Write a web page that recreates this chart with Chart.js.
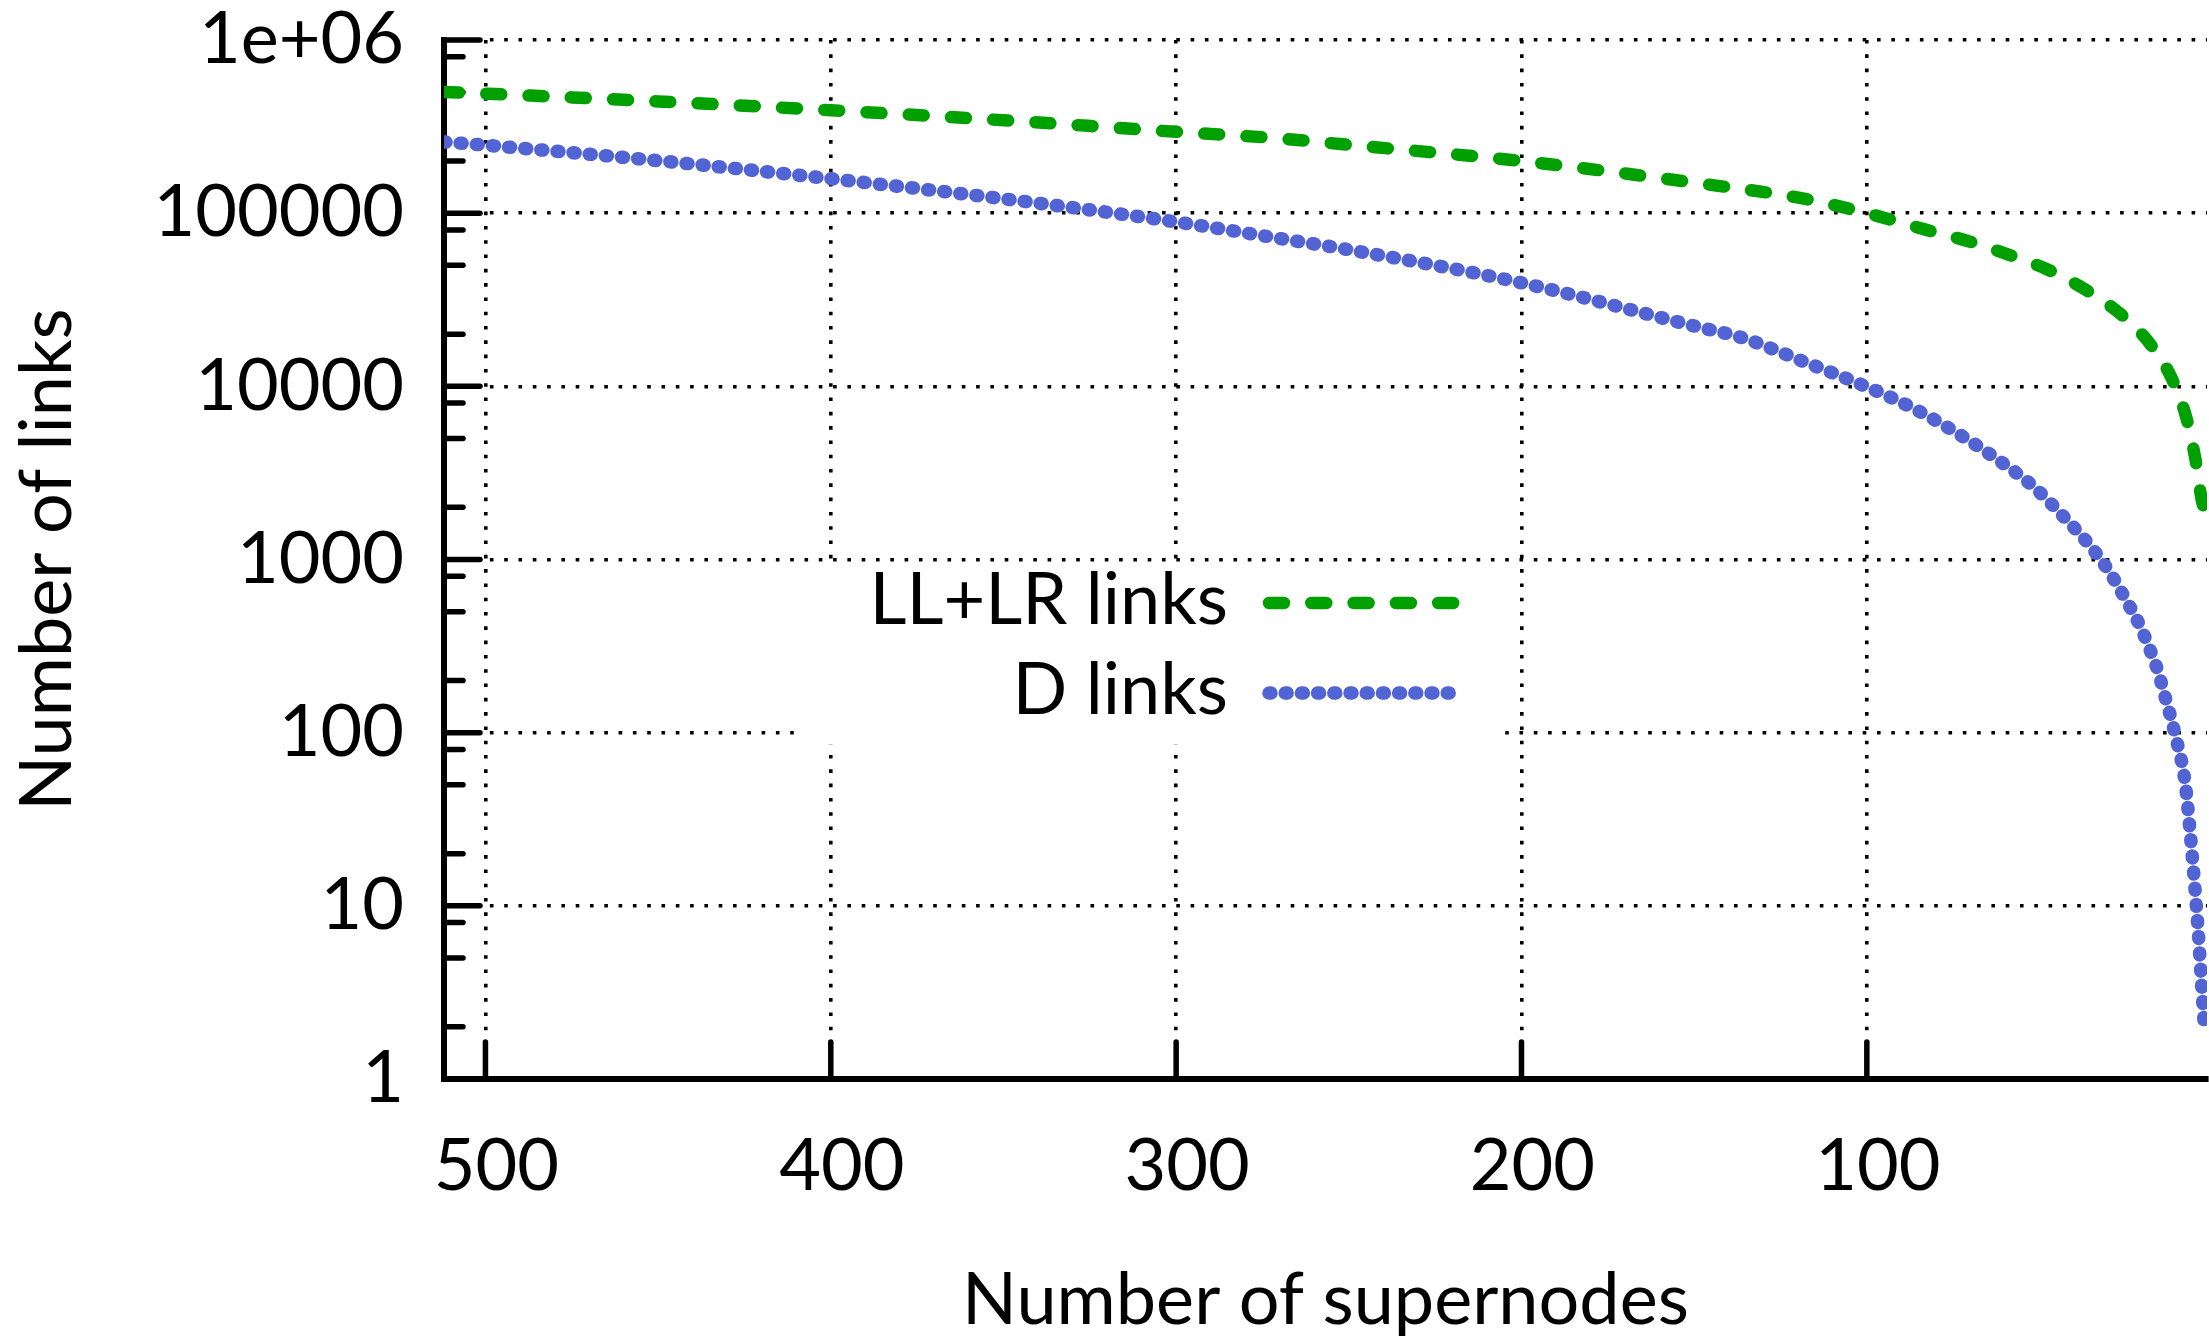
<!DOCTYPE html>
<html><head><meta charset="utf-8">
<script src="https://cdn.jsdelivr.net/npm/chart.js@4/dist/chart.umd.min.js"></script>
<style>html,body{margin:0;padding:0;background:#fff;}canvas{display:block;}</style>
</head><body>
<canvas id="c" width="2209" height="1344"></canvas>
<script>
// ---- data ----
const seriesNames = ['LL+LR links', 'D links'];
const supernodesLL = [512, 500, 450, 400, 350, 300, 270, 250, 200, 150, 119, 100, 82.5, 70.6, 59, 47.7, 36.8, 26.8, 18.2, 11.7, 7.5, 4.9, 3.0, 2.0];
const llLrLinks    = [501000, 490000, 442000, 393000, 344000, 295000, 270000, 248000, 200000, 150000, 122000, 100000, 79800, 68900, 57600, 47300, 36300, 26400, 17800, 11100, 6610, 3840, 2200, 1850];
const supernodesD  = [512, 500, 450, 400, 350, 300, 270, 250, 200, 150, 135.8, 117.9, 100, 87.4, 74.9, 63.3, 51.7, 42.1, 35.5, 30.0, 25.2, 20.8, 17.2, 15.5, 14.3, 10.7, 7.8, 6.4, 5.2, 4.1, 3.2, 2.3];
const dLinks       = [258000, 247000, 201000, 158000, 121000, 89000, 71400, 61500, 39600, 22300, 19000, 13800, 9930, 7620, 5530, 3920, 2630, 1690, 1211, 861, 596, 409, 274, 220, 180, 97, 51, 26.8, 14.2, 7.4, 3.9, 2.05];
const xTickValues = [500, 400, 300, 200, 100];
const yTickValues = [1, 10, 100, 1000, 10000, 100000, 1000000];
const yTickLabels = ['1', '10', '100', '1000', '10000', '100000', '1e+06'];
const yMinorFactors = [2, 5, 8];
const xTitle = 'Number of supernodes';
const yTitle = 'Number of links';

const GREEN = '#00a000';
const BLUE = '#5263d4';
const FONT = 'Lato';

const bgPlugin = {
  id: 'bg',
  beforeDraw(chart) {
    const ctx = chart.ctx;
    ctx.save(); ctx.fillStyle = '#fff'; ctx.fillRect(0, 0, chart.width, chart.height); ctx.restore();
  }
};

const ticksPlugin = {
  id: 'inTicks',
  beforeDatasetsDraw(chart) {
    const ctx = chart.ctx, xs = chart.scales.x, ys = chart.scales.y;
    const left = chart.chartArea.left, bottom = chart.chartArea.bottom;
    ctx.save();
    ctx.strokeStyle = '#000'; ctx.lineWidth = 5.5; ctx.lineCap = 'round';
    const seg = (x1, y1, x2, y2) => { ctx.beginPath(); ctx.moveTo(x1, y1); ctx.lineTo(x2, y2); ctx.stroke(); };
    for (const v of yTickValues) { const p = ys.getPixelForValue(v); seg(left, p, left + 36, p); }
    for (let i = 0; i < yTickValues.length - 1; i++) {
      for (const m of yMinorFactors) { const p = ys.getPixelForValue(yTickValues[i] * m); seg(left, p, left + 19, p); }
    }
    for (const v of xTickValues) { const p = xs.getPixelForValue(v); seg(p, bottom, p, bottom - 37); }
    ctx.restore();
  }
};

const keyPlugin = {
  id: 'key',
  afterDatasetsDraw(chart) {
    const ctx = chart.ctx;
    const ds = chart.data.datasets;
    ctx.save();
    ctx.fillStyle = '#fff';
    ctx.fillRect(803, 563, 697, 181);
    ctx.font = '72px ' + FONT;
    ctx.textAlign = 'right'; ctx.textBaseline = 'middle'; ctx.fillStyle = '#000';
    const rows = [601, 691];
    ds.forEach((d, i) => {
      ctx.fillText(d.label, 1228, rows[i]);
      ctx.strokeStyle = d.borderColor; ctx.lineWidth = d.borderWidth; ctx.lineCap = 'round';
      ctx.setLineDash(d.borderDash);
      ctx.beginPath(); ctx.moveTo(1269, rows[i] + 2); ctx.lineTo(1454, rows[i] + 2); ctx.stroke();
    });
    ctx.restore();
  }
};

const gridCommon = { color: '#000', lineWidth: 3.6, drawTicks: false };
const borderCommon = { display: true, color: '#000', width: 6, dash: [3.6, 10.7] };

function makeChart() {
  Chart.defaults.font.family = FONT;
  Chart.defaults.color = '#000';
  new Chart(document.getElementById('c'), {
    type: 'line',
    data: {
      datasets: [
        {
          label: seriesNames[0],
          data: supernodesLL.map((x, i) => ({ x, y: llLrLinks[i] })),
          borderColor: GREEN, borderWidth: 12.5, borderDash: [15, 27.3],
          borderCapStyle: 'round', borderJoinStyle: 'round',
          pointRadius: 0, fill: false, cubicInterpolationMode: 'monotone'
        },
        {
          label: seriesNames[1],
          data: supernodesD.map((x, i) => ({ x, y: dLinks[i] })),
          borderColor: BLUE, borderWidth: 13.5, borderDash: [2, 14.2],
          borderCapStyle: 'round', borderJoinStyle: 'round',
          pointRadius: 0, fill: false, cubicInterpolationMode: 'monotone'
        }
      ]
    },
    options: {
      responsive: false, animation: false, devicePixelRatio: 1,
      layout: { padding: { left: 0, top: 40, right: 2, bottom: 0 } },
      plugins: { legend: { display: false }, tooltip: { enabled: false } },
      scales: {
        x: {
          type: 'linear', reverse: true, min: 1.5, max: 512,
          afterBuildTicks: s => { s.ticks = xTickValues.map(v => ({ value: v })); },
          afterFit: s => { s.height = 265; s.paddingLeft = 0; s.paddingRight = 0; },
          grid: gridCommon, border: borderCommon,
          ticks: { font: { size: 72 }, color: '#000', padding: 45, labelOffset: 11, maxRotation: 0, autoSkip: false, callback: v => String(v) },
          title: { display: true, text: xTitle, font: { size: 72 }, color: '#000', padding: { top: 0, bottom: 0 } }
        },
        y: {
          type: 'logarithmic', min: 1, max: 1000000,
          afterBuildTicks: s => { s.ticks = yTickValues.map(v => ({ value: v })); },
          afterFit: s => { s.width = 444; s.paddingTop = 0; s.paddingBottom = 0; },
          grid: gridCommon, border: borderCommon,
          ticks: { font: { size: 72 }, color: '#000', padding: 40, autoSkip: false,
                   callback: v => { const k = yTickValues.indexOf(v); return k >= 0 ? yTickLabels[k] : ''; } },
          title: { display: true, text: yTitle, font: { size: 72 }, color: '#000', padding: { top: 5, bottom: 0 } }
        }
      }
    },
    plugins: [bgPlugin, ticksPlugin, keyPlugin]
  });
}

if (document.fonts && document.fonts.load) {
  document.fonts.load('72px ' + FONT).then(makeChart, makeChart);
} else { makeChart(); }
</script>
</body></html>
